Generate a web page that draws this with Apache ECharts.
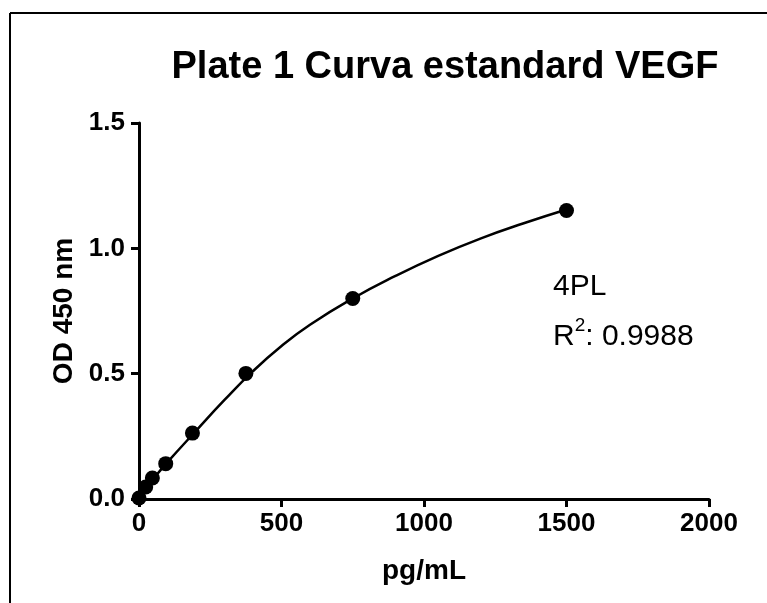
<!DOCTYPE html>
<html>
<head>
<meta charset="utf-8">
<script src="https://cdn.jsdelivr.net/npm/echarts@6/dist/echarts.min.js"></script>
<style>
  html, body { margin: 0; padding: 0; background: #fff; }
  #chart { width: 767px; height: 603px; }
</style>
</head>
<body>
<div id="chart"></div>
<script>
// VEGF standard concentrations (pg/mL) and measured OD at 450 nm
const concentrations = [0, 23.44, 46.88, 93.75, 187.5, 375, 750, 1500];
const odValues = [0.004, 0.048, 0.084, 0.141, 0.263, 0.501, 0.800, 1.151];

// 4PL fitted curve, sampled along the concentration range
const fitX = [0, 25, 50, 100, 200, 300, 400, 500, 600, 750, 900, 1050, 1200, 1350, 1500];
const fitY = [0.0, 0.042, 0.080, 0.147, 0.272, 0.395, 0.510, 0.610, 0.695, 0.800, 0.890, 0.970, 1.040, 1.100, 1.155];

const xTicks = [0, 500, 1000, 1500, 2000];
const yTicks = [0.0, 0.5, 1.0, 1.5];

const chart = echarts.init(document.getElementById('chart'));
const font = 'Liberation Sans, Arial, sans-serif';

chart.setOption({
  animation: false,
  backgroundColor: '#fff',
  title: {
    text: 'Plate 1 Curva estandard VEGF',
    left: 440,
    top: 44,
    textAlign: 'center',
    textStyle: { fontFamily: font, fontWeight: 'bold', fontSize: 38, color: '#000' }
  },
  grid: { left: 139, right: 58, top: 123, bottom: 104, containLabel: false },
  xAxis: {
    type: 'value',
    min: xTicks[0],
    max: xTicks[xTicks.length - 1],
    interval: 500,
    name: 'pg/mL',
    nameLocation: 'middle',
    nameGap: 58,
    nameTextStyle: { fontFamily: font, fontWeight: 'bold', fontSize: 28, color: '#000' },
    axisLine: { show: true, lineStyle: { color: '#000', width: 3 } },
    axisTick: { show: true, length: 8, lineStyle: { color: '#000', width: 3 } },
    axisLabel: {
      fontFamily: font, fontWeight: 'bold', fontSize: 26, color: '#000', margin: 12,
      formatter: v => String(v)
    },
    splitLine: { show: false }
  },
  yAxis: {
    type: 'value',
    min: yTicks[0],
    max: yTicks[yTicks.length - 1],
    interval: 0.5,
    name: 'OD 450 nm',
    nameLocation: 'middle',
    nameGap: 56,
    nameTextStyle: { fontFamily: font, fontWeight: 'bold', fontSize: 28, color: '#000' },
    axisLine: { show: true, lineStyle: { color: '#000', width: 3 } },
    axisTick: { show: true, length: 8, lineStyle: { color: '#000', width: 3 } },
    axisLabel: {
      fontFamily: font, fontWeight: 'bold', fontSize: 26, color: '#000', margin: 14,
      formatter: v => v.toFixed(1)
    },
    splitLine: { show: false }
  },
  graphic: [
    // outer frame (left and top edges visible)
    { type: 'line', shape: { x1: 10, y1: 13, x2: 10, y2: 603 }, style: { stroke: '#000', lineWidth: 2 } },
    { type: 'line', shape: { x1: 10, y1: 13, x2: 767, y2: 13 }, style: { stroke: '#000', lineWidth: 2 } },
    {
      type: 'text', left: 553, top: 272,
      style: { text: '4PL', font: '30px ' + font, fill: '#000' }
    },
    {
      type: 'text', left: 553, top: 316,
      style: {
        text: '{r|R}{s|2}{r|: 0.9988}',
        rich: {
          r: { font: '30px ' + font, fill: '#000', verticalAlign: 'bottom', lineHeight: 36 },
          s: { font: '19px ' + font, fill: '#000', verticalAlign: 'top', lineHeight: 36 }
        }
      }
    }
  ],
  series: [
    {
      name: 'fit',
      type: 'line',
      data: fitX.map((x, i) => [x, fitY[i]]),
      smooth: true,
      showSymbol: false,
      lineStyle: { color: '#000', width: 2.5 },
      z: 2
    },
    {
      name: 'standards',
      type: 'scatter',
      data: concentrations.map((x, i) => [x, odValues[i]]),
      symbol: 'circle',
      symbolSize: 15,
      itemStyle: { color: '#000', opacity: 1 },
      z: 3
    }
  ]
});
</script>
</body>
</html>
